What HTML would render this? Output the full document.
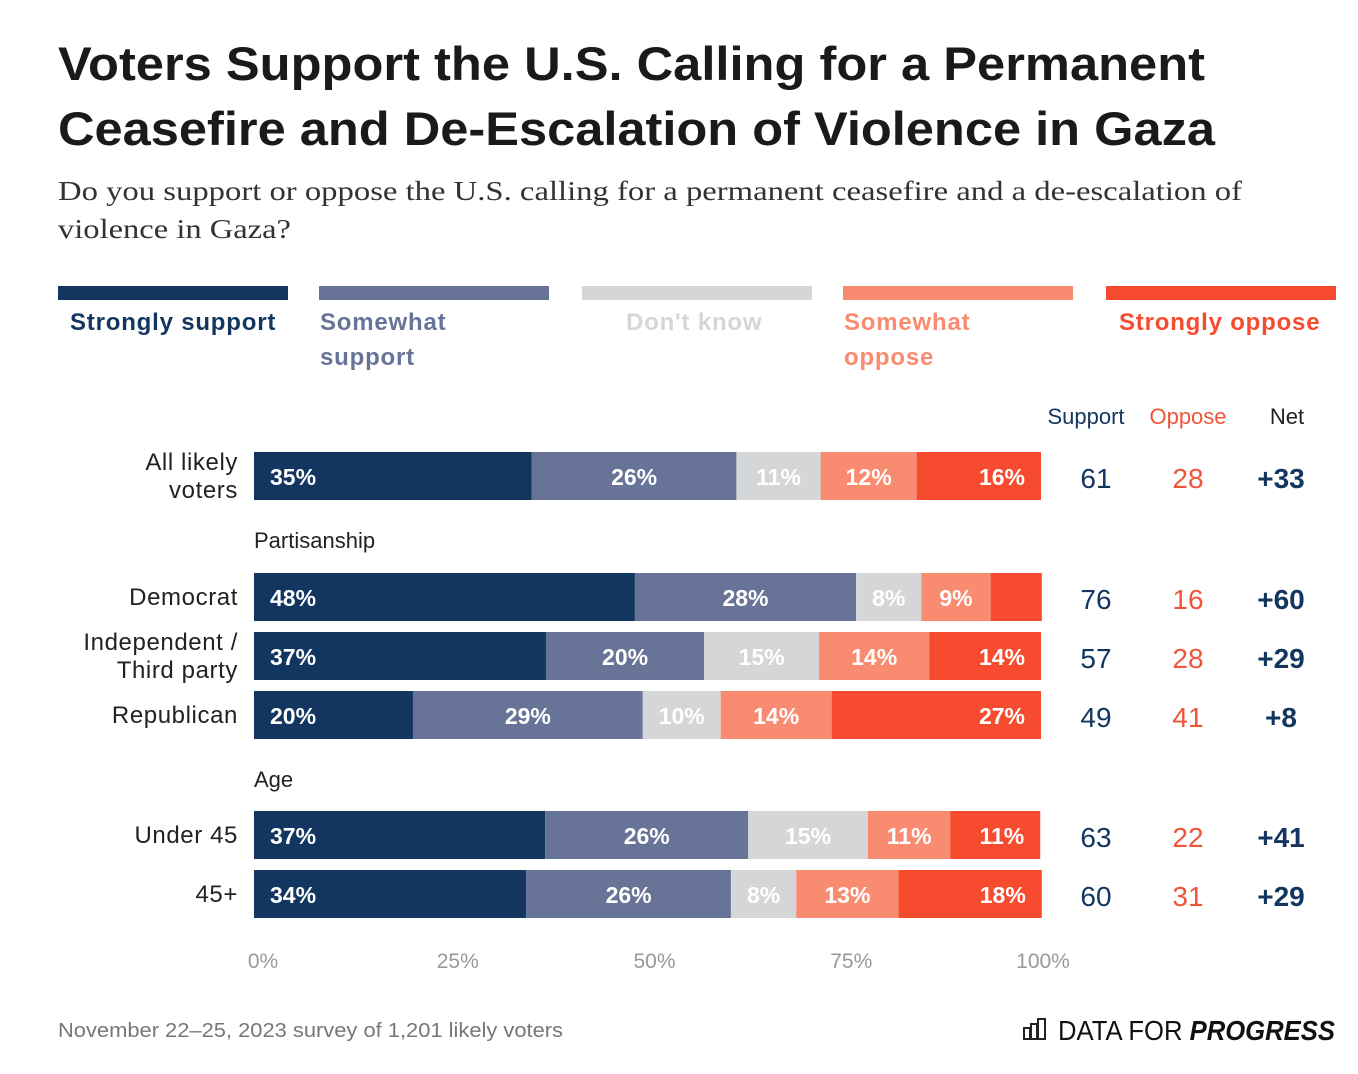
<!DOCTYPE html>
<html><head><meta charset="utf-8"><style>
body{margin:0;background:#fff;width:1358px;height:1074px;overflow:hidden}
svg{display:block;font-family:"Liberation Sans",sans-serif}
</style></head><body>
<svg id="chart" width="1358" height="1074">
<text x="58" y="80" font-size="47" font-weight="bold" fill="#1a1a1a" textLength="1147" lengthAdjust="spacingAndGlyphs">Voters Support the U.S. Calling for a Permanent</text>
<text x="58" y="145" font-size="47" font-weight="bold" fill="#1a1a1a" textLength="1157" lengthAdjust="spacingAndGlyphs">Ceasefire and De-Escalation of Violence in Gaza</text>
<text x="58" y="200" font-size="27" font-family="Liberation Serif, serif" fill="#333" textLength="1184" lengthAdjust="spacingAndGlyphs">Do you support or oppose the U.S. calling for a permanent ceasefire and a de-escalation of</text>
<text x="58" y="238" font-size="27" font-family="Liberation Serif, serif" fill="#333" textLength="233" lengthAdjust="spacingAndGlyphs">violence in Gaza?</text>
<g id="legend"></g>
<g id="bars"></g>
<text x="1086" y="424" font-size="22" text-anchor="middle" fill="#12365f">Support</text>
<text x="1188" y="424" font-size="22" text-anchor="middle" fill="#f0553a">Oppose</text>
<text x="1287" y="424" font-size="22" text-anchor="middle" fill="#222">Net</text>
<text x="254" y="548" font-size="22" fill="#222">Partisanship</text>
<text x="254" y="787" font-size="22" fill="#222">Age</text>
<g id="axis"></g>
<text x="58" y="1037" font-size="20" fill="#777" textLength="505" lengthAdjust="spacingAndGlyphs">November 22–25, 2023 survey of 1,201 likely voters</text>
<g stroke="#222" stroke-width="2" fill="none">
<rect x="1024" y="1028" width="6" height="11"/><rect x="1031" y="1024" width="6" height="15"/><rect x="1038" y="1019" width="7" height="20"/>
</g>
<text x="1058" y="1040" font-size="28" fill="#111" textLength="277" lengthAdjust="spacingAndGlyphs">DATA FOR <tspan font-weight="bold" font-style="italic">PROGRESS</tspan></text>
</svg>
<script>
const groups=["All likely voters","Democrat","Independent / Third party","Republican","Under 45","45+"];
const strongSupport=[35.3,48.4,37.1,20.2,37.0,34.6];
const somewhatSupport=[26.0,28.1,20.1,29.2,25.8,26.0];
const dontKnow=[10.7,8.3,14.6,9.9,15.2,8.3];
const somewhatOppose=[12.2,8.8,14.0,14.1,10.5,13.0];
const strongOppose=[15.8,6.5,14.2,26.6,11.4,18.2];
const labelsStrongSupport=["35%","48%","37%","20%","37%","34%"];
const labelsSomewhatSupport=["26%","28%","20%","29%","26%","26%"];
const labelsDontKnow=["11%","8%","15%","10%","15%","8%"];
const labelsSomewhatOppose=["12%","9%","14%","14%","11%","13%"];
const labelsStrongOppose=["16%","","14%","27%","11%","18%"];
const supportTotals=["61","76","57","49","63","60"];
const opposeTotals=["28","16","28","41","22","31"];
const netValues=["+33","+60","+29","+8","+41","+29"];
const ticks=[0,25,50,75,100];
const tickLabels=["0%","25%","50%","75%","100%"];
const NS="http://www.w3.org/2000/svg";
const X0=254,X1=1041;
const x=v=>X0+v/100*(X1-X0);
const rowY=[452,573,632,691,811,870];
const colors=["#12365f","#687497","#d5d6d8","#f98b70","#f64b2e"];
const seriesNames=["strongly-support","somewhat-support","dont-know","somewhat-oppose","strongly-oppose"];
const legendNames=[["Strongly support"],["Somewhat","support"],["Don't know"],["Somewhat","oppose"],["Strongly oppose"]];
const legendText=["#12365f","#687497","#d5d6d8","#f98b70","#f64b2e"];
function mk(tag,attrs,parent,txt){const e=document.createElementNS(NS,tag);for(const k in attrs)e.setAttribute(k,attrs[k]);if(txt!==undefined)e.textContent=txt;parent.appendChild(e);return e;}
const leg=document.getElementById('legend');
const legX=[58,319,582,843,1106];
legendNames.forEach((ln,i)=>{
 const r=mk('rect',{x:legX[i],y:286,width:230,height:14,fill:colors[i]},leg);
 
 
 const t=mk('text',{x:i==2?626:(i==0?70:(i==4?1119:legX[i]+1)),y:330,'font-size':24,'font-weight':'bold','letter-spacing':0.8,fill:legendText[i]},leg);
 
 
 ln.forEach((s,j)=>mk('tspan',{x:t.getAttribute('x'),dy:j?35:0},t,s));
});
const bars=document.getElementById('bars');
const series=[strongSupport,somewhatSupport,dontKnow,somewhatOppose,strongOppose];
const labels=[labelsStrongSupport,labelsSomewhatSupport,labelsDontKnow,labelsSomewhatOppose,labelsStrongOppose];
groups.forEach((g,r)=>{
 const y=rowY[r];let acc=0;
 series.forEach((s,k)=>{
  const x0=x(acc),x1=x(acc+s[r]);acc+=s[r];
  const rc=mk('rect',{x:x0,y:y,width:x1-x0,height:48,fill:colors[k]},bars);
  
  
  const lab=labels[k][r];
  if(lab){
   let tx,anchor;
   if(k==0){tx=x0+16;anchor='start';}else if(k==4){tx=x1-16;anchor='end';}else{tx=(x0+x1)/2;anchor='middle';}
   const t=mk('text',{x:tx,y:y+33,'font-size':23,'font-weight':'bold',fill:'#fff','text-anchor':anchor},bars,lab);
   
   
  }
 });
 const parts=g==="All likely voters"?["All likely","voters"]:g==="Independent / Third party"?["Independent /","Third party"]:[g];
 const gl=mk('text',{x:238,y:parts.length>1?y+18:y+32,'font-size':24,'letter-spacing':0.6,fill:'#222','text-anchor':'end'},bars);
 
 
 parts.forEach((p,j)=>mk('tspan',{x:238,dy:j?28:0},gl,p));
 const a=mk('text',{x:1096,y:y+36,'font-size':28,fill:'#12365f','text-anchor':'middle'},bars,supportTotals[r]);
 
 
 const b=mk('text',{x:1188,y:y+36,'font-size':28,fill:'#f0553a','text-anchor':'middle'},bars,opposeTotals[r]);
 
 
 const c=mk('text',{x:1281,y:y+36,'font-size':28,'font-weight':'bold',fill:'#12365f','text-anchor':'middle'},bars,netValues[r]);
 
 
});
const ax=document.getElementById('axis');
ticks.forEach((t,i)=>{
 const tx=mk('text',{x:x(t)+(i==0?9:(i==4?2:7)),y:968,'font-size':21,fill:'#999','text-anchor':'middle'},ax,tickLabels[i]);
 
 
});
</script>
</body></html>
